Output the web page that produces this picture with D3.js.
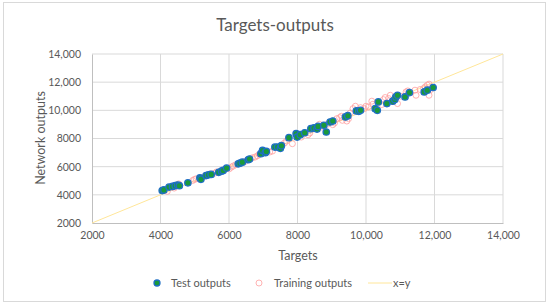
<!DOCTYPE html>
<html><head><meta charset="utf-8">
<script src="https://cdn.jsdelivr.net/npm/d3@7"></script>
<style>body{margin:0;background:#fff;}svg{display:block;}text{font-family:Lato,"Liberation Sans",sans-serif;fill:#595959;}</style>
</head><body><svg id="c" width="550" height="305"></svg>
<script>
const xTicks = [2000,4000,6000,8000,10000,12000,14000];
const yTicks = [2000,4000,6000,8000,10000,12000,14000];
const testX = [4050,4100,4250,4350,4430,4500,4550,4800,5150,5180,5330,5400,5480,5700,5780,5830,5930,6270,6320,6390,6560,6600,6930,6980,7060,7090,7340,7420,7500,7530,7750,7960,7990,8080,8210,8390,8480,8570,8600,8770,8840,8950,9030,9400,9470,9720,9790,9840,10270,10330,10360,10610,10780,10840,10870,10920,11140,11270,11700,11790,11960];
const testY = [4300,4350,4550,4600,4650,4700,4650,4850,5200,5100,5370,5420,5450,5600,5680,5730,5900,6200,6250,6320,6490,6540,6920,7150,6990,7080,7390,7390,7300,7490,8060,8340,8100,8270,8410,8700,8750,8670,8860,8940,8460,9170,9240,9530,9620,9960,9930,10000,10120,10000,10600,10480,10650,10770,10950,11070,10950,11260,11310,11430,11620];
const trainX = [4200,4400,4530,4940,4990,5040,5230,5450,5580,5640,6010,6070,6120,6190,6470,6680,6760,6830,6880,7190,7270,7620,7680,7850,8110,8310,8360,8640,8700,8870,9030,9080,9150,9230,9280,9310,9440,9490,9540,9620,9690,9840,9950,10000,10070,10170,10200,10460,10510,10560,10660,10710,10760,10920,11020,11170,11220,11430,11460,11580,11680,11730,11790,11840,11890,11840];
const trainY = [4250,4480,4780,5020,5090,5140,5250,5490,5540,5630,5850,5970,6040,6130,6370,6630,6680,6770,6870,7040,7110,7680,7820,7630,8100,8270,8390,9010,8820,9010,8980,9100,9410,9480,9580,9290,9240,9410,9810,10120,10290,10190,10120,10290,10240,10650,10430,10410,10760,10910,10840,11070,10650,10480,11000,11310,11380,11430,11070,11480,11550,11670,11790,11860,11480,11070];
const lineX = [2000,14000];
const lineY = [2000,14000];

const svg = d3.select("#c");
svg.append("rect").attr("x",3.5).attr("y",2.5).attr("width",542).attr("height",299)
  .attr("fill","#fff").attr("stroke","#d9d9d9").attr("stroke-width",1);

const x = d3.scaleLinear().domain([2000,14000]).range([92,503]);
const y = d3.scaleLinear().domain([2000,14000]).range([223,54]);
const fmt = v => v >= 10000 ? d3.format(",")(v) : String(v);

// grid
svg.append("g").selectAll("line").data(xTicks.slice(1)).join("line")
  .attr("x1",d=>x(d)).attr("x2",d=>x(d)).attr("y1",y(14000)).attr("y2",y(2000))
  .attr("stroke","#d9d9d9").attr("stroke-width",1);
svg.append("g").selectAll("line").data(yTicks.slice(1)).join("line")
  .attr("x1",x(2000)).attr("x2",x(14000)).attr("y1",d=>y(d)).attr("y2",d=>y(d))
  .attr("stroke","#d9d9d9").attr("stroke-width",1);

// axes
const xa = svg.append("g").attr("transform",`translate(0,${y(2000)})`)
  .call(d3.axisBottom(x).tickValues(xTicks).tickFormat(fmt).tickSize(0).tickPadding(9));
const ya = svg.append("g").attr("transform",`translate(${x(2000)},0)`)
  .call(d3.axisLeft(y).tickValues(yTicks).tickFormat(fmt).tickSize(0).tickPadding(11));
[xa,ya].forEach(a=>{a.select(".domain").attr("stroke","#bfbfbf");
  a.selectAll("text").style("font-size","10.5px").attr("fill","#595959");});

// x=y line
svg.append("line").attr("x1",x(lineX[0])).attr("y1",y(lineY[0])).attr("x2",x(lineX[1])).attr("y2",y(lineY[1]))
  .attr("stroke","#ffe699").attr("stroke-width",1);

// training
svg.append("g").selectAll("circle").data(trainX.map((d,i)=>[d,trainY[i]])).join("circle")
  .attr("cx",d=>x(d[0])).attr("cy",d=>y(d[1])).attr("r",3)
  .attr("fill","none").attr("stroke","#ff9f9f").attr("stroke-width",0.8);
// test
svg.append("g").selectAll("circle").data(testX.map((d,i)=>[d,testY[i]])).join("circle")
  .attr("cx",d=>x(d[0])).attr("cy",d=>y(d[1])).attr("r",3.2)
  .attr("fill","#1a9a3a").attr("stroke","#1f6fc4").attr("stroke-width",1.3);

// titles
svg.append("text").attr("x",275).attr("y",31).attr("text-anchor","middle").style("font-size","17px").text("Targets-outputs");
svg.append("text").attr("x",298).attr("y",260).attr("text-anchor","middle").style("font-size","12.5px").text("Targets");
svg.append("text").attr("transform","translate(45,138) rotate(-90)").attr("text-anchor","middle").style("font-size","12.5px").text("Network outputs");

// legend
const ly = 283;
svg.append("circle").attr("cx",157).attr("cy",ly).attr("r",3).attr("fill","#1a9a3a").attr("stroke","#1f6fc4").attr("stroke-width",1.3);
svg.append("text").attr("x",171).attr("y",ly+4).style("font-size","11px").text("Test outputs");
svg.append("circle").attr("cx",259).attr("cy",ly).attr("r",3).attr("fill","none").attr("stroke","#ff9f9f").attr("stroke-width",0.8);
svg.append("text").attr("x",274).attr("y",ly+4).style("font-size","11px").text("Training outputs");
svg.append("line").attr("x1",368).attr("x2",392).attr("y1",ly).attr("y2",ly).attr("stroke","#ffe699").attr("stroke-width",1);
svg.append("text").attr("x",393).attr("y",ly+4).style("font-size","11px").text("x=y");
</script></body></html>
